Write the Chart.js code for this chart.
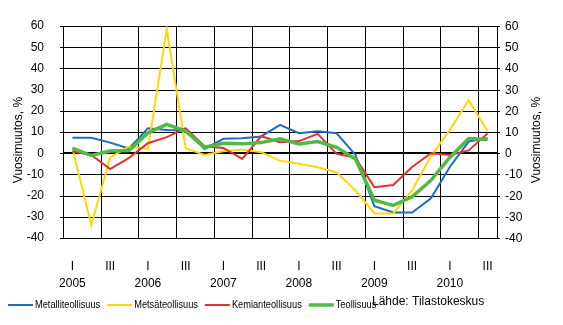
<!DOCTYPE html>
<html>
<head>
<meta charset="utf-8">
<script src="https://cdn.jsdelivr.net/npm/chart.js@4/dist/chart.umd.min.js"></script>
<style>
  html, body { margin: 0; padding: 0; background: #fff; overflow: hidden; }
  #wrap { position: relative; width: 563px; height: 325px; }
  #grid, #c { position: absolute; left: 0; top: 0; display: block; }
  #grid { z-index: 0; }
  #c { z-index: 1; }
</style>
</head>
<body>
<div id="wrap">
  <canvas id="grid" width="563" height="325"></canvas>
  <canvas id="c" width="563" height="325"></canvas>
</div>
<script>
// Quarterly year-on-year change, %, 2005 Q1 – 2010 Q3
const years = ['2005', '2006', '2007', '2008', '2009', '2010'];
const quarterMarks = ['I', '', 'III', ''];
const quarterCount = 23;

const metalliteollisuus = [7.3, 7.3, 5.0, 2.2, 11.8, 11.0, 10.7, 2.0, 6.8, 7.1, 7.9, 13.4, 9.4, 10.4, 9.4, -0.8, -25.0, -28.0, -28.0, -21.3, -6.5, 5.5, 7.0];
const metsateollisuus   = [2.4, -34.0, -2.0, 3.2, 2.0, 58.5, 2.4, -0.8, 0.9, 1.7, 0.5, -3.5, -5.0, -6.6, -9.0, -17.6, -28.3, -28.4, -17.5, -1.5, 11.0, 25.0, 10.4];
const kemianteollisuus  = [0.8, -0.8, -7.5, -2.2, 4.7, 7.6, 11.8, 3.3, 2.5, -2.7, 8.0, 5.2, 5.7, 9.1, -0.3, -2.2, -16.0, -15.0, -6.5, 0.0, -0.9, 1.3, 9.3];
const teollisuus        = [2.4, -1.1, 1.0, 1.3, 9.6, 13.6, 10.4, 2.8, 4.7, 4.4, 5.0, 6.8, 4.4, 5.5, 2.8, -2.7, -22.2, -24.6, -20.6, -12.8, -2.0, 6.9, 6.5];

const axisTitle = 'Vuosimuutos, %';
const sourceText = 'Lähde: Tilastokeskus';

// Two-line category labels: quarter mark, and the year under each first quarter
const labels = [];
for (let i = 0; i < quarterCount; i++) {
  const q = i % 4;
  const year = years[Math.floor(i / 4)];
  labels.push([quarterMarks[q], q === 0 ? year : '']);
}

const FONT = '"Liberation Sans", Arial, sans-serif';

const series = [
  { label: 'Metalliteollisuus', data: metalliteollisuus, color: '#1b6ebd', width: 2, order: 3 },
  { label: 'Metsäteollisuus',   data: metsateollisuus,   color: '#ffd800', width: 2, order: 2 },
  { label: 'Kemianteollisuus',  data: kemianteollisuus,  color: '#e2312f', width: 2, order: 1 },
  { label: 'Teollisuus',        data: teollisuus,        color: '#52b947', width: 3.5, order: 0 }
];

// Plot frame and grid, painted on the canvas beneath the chart from the chart's own scales:
// a line at every value tick (heavier at zero) and at every half-year boundary
const plotGrid = {
  id: 'plotGrid',
  afterDraw(chart) {
    const gctx = document.getElementById('grid').getContext('2d');
    const { x: xs, y: ys } = chart.scales;
    const a = chart.chartArea;
    const left = Math.round(a.left), right = Math.round(a.right);
    const top = Math.round(a.top), bottom = Math.round(a.bottom);
    gctx.clearRect(0, 0, gctx.canvas.width, gctx.canvas.height);
    gctx.fillStyle = '#000000';
    ys.ticks.forEach(t => {
      const y = Math.round(ys.getPixelForValue(t.value));
      if (t.value === 0) gctx.fillRect(left, y - 1, right - left + 1, 2);
      else gctx.fillRect(left, y, right - left + 1, 1);
      gctx.fillRect(left - 3, y, 3, 1);
      gctx.fillRect(right, y, 3, 1);
    });
    for (let k = 0; k <= quarterCount; k++) {
      if (k % 2 !== 0 && k !== quarterCount) continue;
      const px = Math.round(xs.getPixelForValue(k - 0.5));
      gctx.fillRect(Math.min(px, right), top, 1, bottom - top + 1);
    }
  }
};

// Right-hand value labels, taken from the y scale's ticks
const rightAxis = {
  id: 'rightAxis',
  afterDraw(chart) {
    const scale = chart.scales.y;
    const a = chart.chartArea;
    const ctx = chart.ctx;
    ctx.save();
    ctx.fillStyle = '#000';
    ctx.font = '12px ' + FONT;
    ctx.textAlign = 'left';
    ctx.textBaseline = 'middle';
    scale.ticks.forEach(t => {
      const y = Math.round(scale.getPixelForValue(t.value));
      ctx.fillText(t.label, a.right + 8, y + 0.5);
    });
    ctx.restore();
  }
};

// Axis titles, legend row and source note
const decorations = {
  id: 'decorations',
  afterDraw(chart) {
    const ctx = chart.ctx;
    ctx.save();
    ctx.fillStyle = '#000';
    ctx.font = '12px ' + FONT;
    ctx.textAlign = 'center';
    ctx.textBaseline = 'middle';
    [19, 537].forEach(x => {
      ctx.save();
      ctx.translate(x, 140);
      ctx.rotate(-Math.PI / 2);
      ctx.fillText(axisTitle, 0, 0);
      ctx.restore();
    });

    const ly = 305;
    const squeeze = 0.88;
    let x = 8;
    ctx.font = '10.5px ' + FONT;
    ctx.textAlign = 'left';
    chart.data.datasets.forEach(ds => {
      ctx.strokeStyle = ds.borderColor;
      ctx.lineWidth = ds.borderWidth;
      ctx.beginPath();
      ctx.moveTo(x, ly);
      ctx.lineTo(x + 25, ly);
      ctx.stroke();
      ctx.fillStyle = '#000';
      ctx.save();
      ctx.translate(x + 27, ly);
      ctx.scale(squeeze, 1);
      ctx.fillText(ds.label, 0, 0);
      ctx.restore();
      x += 27 + ctx.measureText(ds.label).width * squeeze + 7;
    });
    ctx.font = '12px ' + FONT;
    ctx.fillText(sourceText, 372, 302);
    ctx.restore();
  }
};

new Chart(document.getElementById('c'), {
  type: 'line',
  data: {
    labels: labels,
    datasets: series.map(s => ({
      label: s.label,
      data: s.data,
      borderColor: s.color,
      backgroundColor: s.color,
      borderWidth: s.width,
      pointRadius: 0,
      tension: 0,
      order: s.order,
      fill: false
    }))
  },
  options: {
    responsive: false,
    animation: false,
    devicePixelRatio: 1,
    layout: { padding: { left: 0, right: 66, top: 26, bottom: 37 } },
    plugins: { legend: { display: false }, tooltip: { enabled: false } },
    scales: {
      x: {
        type: 'category',
        offset: true,
        grid: { offset: true, display: false },
        border: { display: false },
        ticks: {
          autoSkip: false,
          maxRotation: 0,
          minRotation: 0,
          padding: 12,
          color: '#000',
          font: { family: FONT, size: 12, lineHeight: 1.4 }
        },
        afterFit: s => { s.height = 50; }
      },
      y: {
        position: 'left',
        min: -40,
        max: 60,
        ticks: { stepSize: 10, padding: 11, color: '#000', font: { family: FONT, size: 12 } },
        grid: { display: false },
        border: { display: false },
        afterFit: s => { s.width = 63; }
      }
    }
  },
  plugins: [plotGrid, rightAxis, decorations]
});
</script>
</body>
</html>
